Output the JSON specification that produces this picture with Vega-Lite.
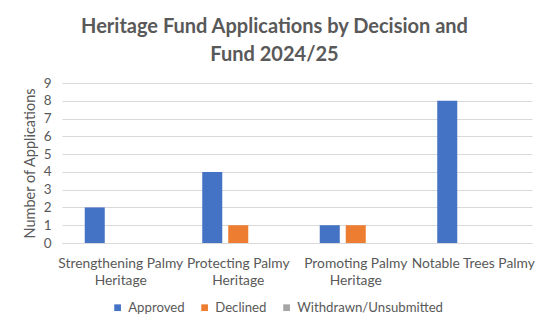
{
  "$schema": "https://vega.github.io/schema/vega-lite/v6.json",
  "autosize": "none",
  "width": 470,
  "height": 160,
  "padding": {"left": 62, "top": 83, "right": 17, "bottom": 88},
  "background": "white",
  "title": {
    "text": ["Heritage Fund Applications by Decision and", "Fund 2024/25"],
    "font": "Lato",
    "fontSize": 20,
    "fontWeight": "bold",
    "color": "#595959",
    "anchor": "middle",
    "dx": -22.5,
    "offset": 11,
    "lineHeight": 28
  },
  "data": {
    "values": [
      {"fund": "Strengthening Palmy Heritage", "decision": "Approved", "count": 2},
      {"fund": "Strengthening Palmy Heritage", "decision": "Declined", "count": 0},
      {"fund": "Strengthening Palmy Heritage", "decision": "Withdrawn/Unsubmitted", "count": 0},
      {"fund": "Protecting Palmy Heritage", "decision": "Approved", "count": 4},
      {"fund": "Protecting Palmy Heritage", "decision": "Declined", "count": 1},
      {"fund": "Protecting Palmy Heritage", "decision": "Withdrawn/Unsubmitted", "count": 0},
      {"fund": "Promoting Palmy Heritage", "decision": "Approved", "count": 1},
      {"fund": "Promoting Palmy Heritage", "decision": "Declined", "count": 1},
      {"fund": "Promoting Palmy Heritage", "decision": "Withdrawn/Unsubmitted", "count": 0},
      {"fund": "Notable Trees Palmy", "decision": "Approved", "count": 8},
      {"fund": "Notable Trees Palmy", "decision": "Declined", "count": 0},
      {"fund": "Notable Trees Palmy", "decision": "Withdrawn/Unsubmitted", "count": 0}
    ]
  },
  "mark": {"type": "bar"},
  "encoding": {
    "x": {
      "field": "fund",
      "type": "nominal",
      "sort": null,
      "scale": {"paddingInner": 0, "paddingOuter": 0},
      "axis": {
        "title": null,
        "labelAngle": 0,
        "ticks": false,
        "domain": true,
        "domainColor": "#D9D9D9",
        "labelFont": "Lato",
        "labelFontSize": 13.8,
        "labelColor": "#595959",
        "labelPadding": 13,
        "labelLineHeight": 17,
        "labelExpr": "datum.label == 'Notable Trees Palmy' ? datum.label : [substring(datum.label, 0, lastindexof(datum.label, ' ')), substring(datum.label, lastindexof(datum.label, ' ') + 1)]"
      }
    },
    "xOffset": {
      "field": "decision",
      "type": "nominal",
      "sort": ["Approved", "Declined", "Withdrawn/Unsubmitted"],
      "scale": {"paddingInner": 0.23, "paddingOuter": 0.875}
    },
    "y": {
      "field": "count",
      "type": "quantitative",
      "scale": {"domain": [0, 9]},
      "axis": {
        "title": "Number of Applications",
        "titleFont": "Lato",
        "titleFontSize": 14.5,
        "titleFontWeight": "normal",
        "titleColor": "#595959",
        "titlePadding": 6,
        "values": [0, 1, 2, 3, 4, 5, 6, 7, 8, 9],
        "ticks": false,
        "domain": false,
        "gridColor": "#D9D9D9",
        "labelFont": "Lato",
        "labelFontSize": 13.5,
        "labelColor": "#595959",
        "labelPadding": 11
      }
    },
    "color": {
      "field": "decision",
      "type": "nominal",
      "sort": ["Approved", "Declined", "Withdrawn/Unsubmitted"],
      "scale": {"domain": ["Approved", "Declined", "Withdrawn/Unsubmitted"], "range": ["#4472C4", "#ED7D31", "#A5A5A5"]},
      "legend": {
        "title": null,
        "orient": "none",
        "direction": "horizontal",
        "legendX": 49,
        "legendY": 218,
        "symbolType": "square",
        "symbolSize": 45,
        "symbolStrokeWidth": 0,
        "labelFont": "Lato",
        "labelFontSize": 13.2,
        "labelColor": "#595959",
        "labelOffset": 4,
        "columnPadding": 13
      }
    }
  },
  "config": {
    "view": {"stroke": null}
  }
}
